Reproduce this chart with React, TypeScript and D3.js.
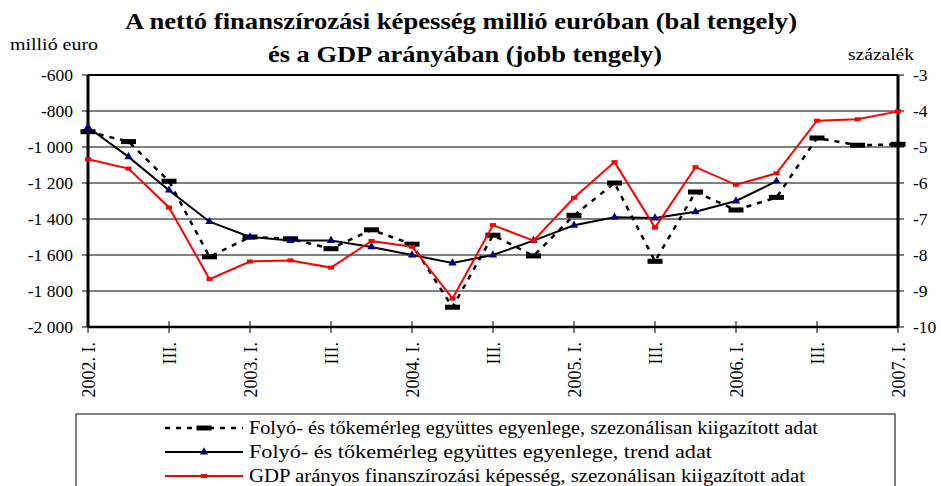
import React from 'react';
import * as d3 from 'd3';

// negyedévek 2002. I. – 2007. I.
const quarters = [
  '2002. I.', 'II.', 'III.', 'IV.',
  '2003. I.', 'II.', 'III.', 'IV.',
  '2004. I.', 'II.', 'III.', 'IV.',
  '2005. I.', 'II.', 'III.', 'IV.',
  '2006. I.', 'II.', 'III.', 'IV.',
  '2007. I.',
];

// millió euro, szezonálisan kiigazított
const saValues = [
  -915, -970, -1190, -1610, -1500, -1510, -1565, -1460, -1540, -1890, -1490,
  -1605, -1380, -1200, -1635, -1250, -1350, -1280, -950, -990, -985,
];

// millió euro, trend (2006. II.-ig)
const trendValues = [
  -890, -1055, -1240, -1415, -1500, -1520, -1520, -1555, -1600, -1645, -1600,
  -1520, -1435, -1390, -1395, -1360, -1300, -1190,
];

// GDP arányában, %
const gdpValues = [
  -5.34, -5.6, -6.68, -8.67, -8.18, -8.15, -8.35, -7.61, -7.77, -9.21, -7.17,
  -7.6, -6.41, -5.42, -7.24, -5.56, -6.05, -5.73, -4.27, -4.23, -4.01,
];

const leftTicks = [-2000, -1800, -1600, -1400, -1200, -1000, -800, -600];
const rightTicks = [-10, -9, -8, -7, -6, -5, -4, -3];

const legendLabels = [
  'Folyó- és tőkemérleg együttes egyenlege, szezonálisan kiigazított adat',
  'Folyó- és tőkemérleg együttes egyenlege, trend adat',
  'GDP arányos finanszírozási képesség, szezonálisan kiigazított adat',
];

const FONT = '"Liberation Serif", "DejaVu Serif", serif';

const huLocale = d3.formatLocale({
  decimal: ',',
  thousands: ' ',
  grouping: [3],
  currency: ['', ''],
  minus: '-',
});
const fmt = huLocale.format(',d');

export default function App() {
  const W = 941;
  const H = 486;
  const left = 88;
  const right = 898;
  const top = 75;
  const bottom = 327;

  const x = d3.scalePoint<number>()
    .domain(quarters.map((_, i) => i))
    .range([left, right]);
  const yL = d3.scaleLinear().domain([-2000, -600]).range([bottom, top]);
  const yR = d3.scaleLinear().domain([-10, -3]).range([bottom, top]);

  const saLine = d3.line<number>().x((_, i) => x(i)!).y(d => yL(d));
  const gdpLine = d3.line<number>().x((_, i) => x(i)!).y(d => yR(d));
  const tri = d3.symbol().type(d3.symbolTriangle).size(30)();

  const legendTop = 414;
  const rowY = [428, 452, 476];
  const legendWidths = [569, 463, 556];

  return (
    <svg width={W} height={H} style={{ position: 'absolute', left: 0, top: 0, background: '#fff', fontFamily: FONT }}>
      {/* cím */}
      <text x={125} y={29} fontSize={23} fontWeight="bold" textLength={672} lengthAdjust="spacingAndGlyphs">
        A nettó finanszírozási képesség millió euróban (bal tengely)
      </text>
      <text x={268} y={62} fontSize={23} fontWeight="bold" textLength={394} lengthAdjust="spacingAndGlyphs">
        és a GDP arányában (jobb tengely)
      </text>
      <text x={10} y={50} fontSize={17} textLength={88} lengthAdjust="spacingAndGlyphs">millió euro</text>
      <text x={848} y={60} fontSize={17} textLength={66} lengthAdjust="spacingAndGlyphs">százalék</text>

      {/* rács */}
      {leftTicks.slice(1, -1).map(t => (
        <line key={t} x1={left} x2={right} y1={yL(t)} y2={yL(t)} stroke="#000" strokeWidth={1} />
      ))}
      <line x1={left} x2={right} y1={top} y2={top} stroke="#000" strokeWidth={2} />

      {/* bal tengely */}
      {leftTicks.map(t => (
        <g key={t}>
          <line x1={left - 6} x2={left} y1={yL(t)} y2={yL(t)} stroke="#000" strokeWidth={1} />
          <text x={73} y={yL(t)} dy="0.35em" textAnchor="end" fontSize={17.5}>{fmt(t)}</text>
        </g>
      ))}
      {/* jobb tengely */}
      {rightTicks.map(t => (
        <g key={t}>
          <line x1={right} x2={right + 6} y1={yR(t)} y2={yR(t)} stroke="#000" strokeWidth={1} />
          <text x={913} y={yR(t)} dy="0.35em" fontSize={17.5}>{fmt(t)}</text>
        </g>
      ))}

      {/* x tengely */}
      {quarters.map((q, i) => i % 2 === 0 && (
        <g key={i}>
          <line x1={x(i)} x2={x(i)} y1={bottom - 6} y2={bottom + 6} stroke="#000" strokeWidth={1} />
          <text transform={`translate(${x(i)! + 1},${342}) rotate(-90)`} textAnchor="end"
            dominantBaseline="central" fontSize={18}>{q}</text>
        </g>
      ))}

      <line x1={left} x2={left} y1={top} y2={bottom} stroke="#000" strokeWidth={3} />
      <line x1={right} x2={right} y1={top} y2={bottom} stroke="#000" strokeWidth={3} />
      <line x1={left} x2={right} y1={bottom} y2={bottom} stroke="#000" strokeWidth={2.5} />

      {/* szezonálisan kiigazított */}
      <path d={saLine(saValues)!} fill="none" stroke="#000" strokeWidth={2.5} strokeDasharray="5,6" />
      {saValues.map((v, i) => (
        <rect key={i} x={x(i)! - 7.5} y={yL(v) - 2.5} width={15} height={5} fill="#000" />
      ))}

      {/* trend */}
      <path d={saLine(trendValues)!} fill="none" stroke="#000" strokeWidth={2} />
      {trendValues.map((v, i) => (
        <path key={i} d={tri!} transform={`translate(${x(i)},${yL(v)})`} fill="#000080" />
      ))}

      {/* GDP arányos */}
      <path d={gdpLine(gdpValues)!} fill="none" stroke="#f00" strokeWidth={2} />
      {gdpValues.map((v, i) => (
        <rect key={i} x={x(i)! - 3} y={yR(v) - 2} width={6} height={4} fill="#f00" />
      ))}

      {/* jelmagyarázat */}
      <rect x={76} y={legendTop} width={819} height={100} fill="#fff" stroke="#000" strokeWidth={1} />
      <line x1={165} x2={243} y1={rowY[0]} y2={rowY[0]} stroke="#000" strokeWidth={2.5} strokeDasharray="5,6" />
      <rect x={196.5} y={rowY[0] - 2.5} width={15} height={5} fill="#000" />
      <line x1={165} x2={243} y1={rowY[1]} y2={rowY[1]} stroke="#000" strokeWidth={2} />
      <path d={tri!} transform={`translate(204,${rowY[1]})`} fill="#000080" />
      <line x1={165} x2={243} y1={rowY[2]} y2={rowY[2]} stroke="#f00" strokeWidth={2} />
      <rect x={201} y={rowY[2] - 2} width={6} height={4} fill="#f00" />
      {legendLabels.map((l, i) => (
        <text key={i} x={249} y={rowY[i]} dy="0.32em" fontSize={18}
          textLength={legendWidths[i]} lengthAdjust="spacingAndGlyphs">{l}</text>
      ))}
    </svg>
  );
}
